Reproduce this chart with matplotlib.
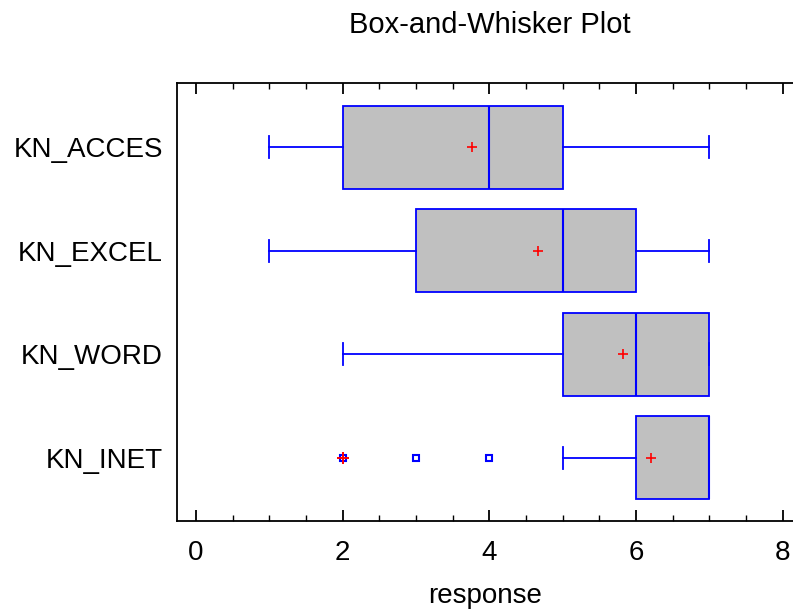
import matplotlib.pyplot as plt
from matplotlib.ticker import MultipleLocator

plt.rcParams['font.family'] = ['Liberation Sans', 'DejaVu Sans']

# data, bottom to top
labels = ["KN_INET", "KN_WORD", "KN_EXCEL", "KN_ACCES"]
whislo = [5, 2, 1, 1]
q1 = [6, 5, 3, 2]
med = [7, 6, 5, 4]
q3 = [7, 7, 6, 5]
whishi = [7, 7, 7, 7]
means = [6.21, 5.82, 4.66, 3.76]
outliers = [[2, 3, 4], [], [], []]
far_outliers = [[2], [], [], []]

stats = []
for i in range(len(labels)):
    stats.append(dict(label=labels[i], whislo=whislo[i], q1=q1[i], med=med[i],
                      q3=q3[i], whishi=whishi[i], mean=means[i], fliers=outliers[i]))

fig = plt.figure(figsize=(7.93, 6.09), dpi=100)
ax = fig.add_axes([177 / 793, 88 / 609, 1 - 177 / 793, (521 - 83) / 609])

blue = "#0000ff"
pos = list(range(1, len(labels) + 1))
ax.bxp(stats, positions=pos, vert=False, widths=0.8, capwidths=0.21,
       patch_artist=True, showmeans=True,
       boxprops=dict(facecolor="#c0c0c0", edgecolor=blue, linewidth=1.3),
       medianprops=dict(color=blue, linewidth=1.5),
       whiskerprops=dict(color=blue, linewidth=1.3),
       capprops=dict(color=blue, linewidth=1.3),
       meanprops=dict(marker="+", markeredgecolor="red", markersize=7, markeredgewidth=1.2),
       flierprops=dict(marker="s", markerfacecolor="none", markeredgecolor=blue,
                       markersize=4.5, markeredgewidth=1.5))

for p, fo in zip(pos, far_outliers):
    if fo:
        ax.plot(fo, [p] * len(fo), linestyle="none", marker="+", color="red",
                markersize=8, markeredgewidth=1.4)

ax.set_xlim(-0.26, 8.14)
ax.set_ylim(0.39, 4.62)
ax.xaxis.set_major_locator(MultipleLocator(2))
ax.xaxis.set_minor_locator(MultipleLocator(0.5))
ax.tick_params(axis="x", which="both", direction="in", top=True, labelsize=20, pad=14)
ax.tick_params(axis="x", which="major", length=8, width=1.3)
ax.tick_params(axis="x", which="minor", length=4, width=1)
ax.tick_params(axis="y", length=0, labelsize=20, pad=10)
ax.spines["right"].set_visible(False)
for s in ["left", "top", "bottom"]:
    ax.spines[s].set_linewidth(1.3)

ax.set_xlabel("response", fontsize=20, labelpad=12)
fig.text(490 / 793, 1 - 25 / 609, "Box-and-Whisker Plot", ha="center", va="center", fontsize=21)

fig.savefig("out.png", dpi=100)
